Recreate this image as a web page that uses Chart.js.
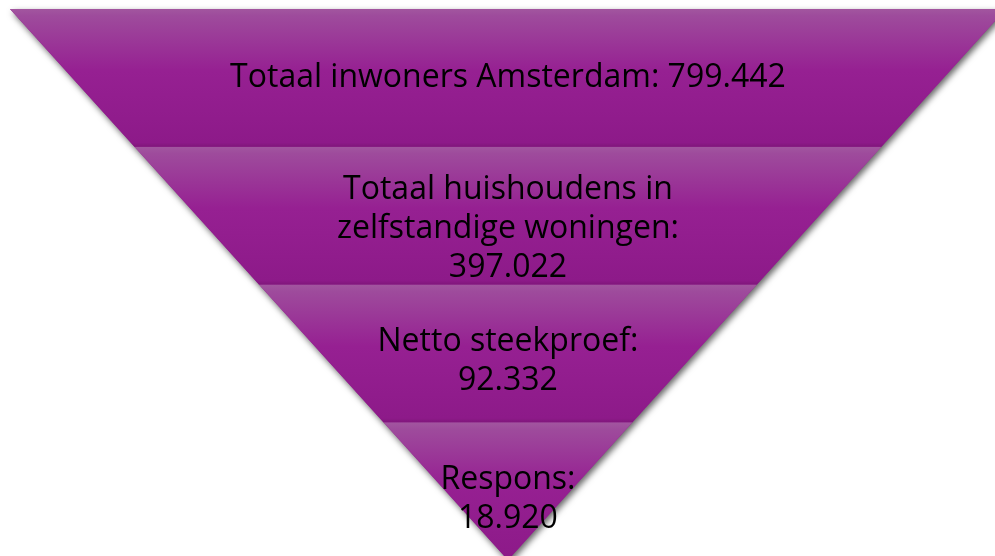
<!DOCTYPE html>
<html>
<head>
<meta charset="utf-8">
<title>Respons</title>
<script src="https://cdn.jsdelivr.net/npm/chart.js@4/dist/chart.umd.min.js"></script>
<style>
  html, body { margin: 0; padding: 0; background: #fff; }
  #wrap { width: 995px; height: 556px; position: relative; }
</style>
</head>
<body>
<div id="wrap"><canvas id="funnel"></canvas></div>
<script>
// funnel steps, top to bottom
var steps = ['inwoners', 'huishoudens', 'steekproef', 'respons'];
var counts = [799442, 397022, 92332, 18920];
var labelLines = [
    ['Totaal inwoners Amsterdam: {n}'],
    ['Totaal huishoudens in', 'zelfstandige woningen:', '{n}'],
    ['Netto steekproef:', '{n}'],
    ['Respons:', '{n}']
];

function fmt(n) {
    // dutch thousands separator
    return String(n).replace(/\B(?=(\d{3})+(?!\d))/g, '.');
}

var nSteps = steps.length;

// each step is a slice of the inverted triangle: level i..i+1,
// half width shrinks linearly from 1 at the top to 0 at the tip
function halfWidth(level) {
    return (nSteps - level) / nSteps;
}

function sliceData(i) {
    var t = halfWidth(i), b = halfWidth(i + 1);
    return [
        {x: -t, y: i}, {x: t, y: i},
        {x: b, y: i + 1}, {x: -b, y: i + 1},
        {x: -t, y: i}
    ];
}

function sliceFill(c) {
    var chart = c.chart;
    var i = c.datasetIndex - 1;
    if (!chart.chartArea || i < 0) return '#951f92';
    var y = chart.scales.y;
    var top = y.getPixelForValue(i), bot = y.getPixelForValue(i + 1);
    var g = chart.ctx.createLinearGradient(0, top, 0, bot);
    g.addColorStop(0, '#a2569f');
    g.addColorStop(0.05, '#9e4b9c');
    g.addColorStop(0.45, '#962092');
    g.addColorStop(0.97, '#8d1a89');
    g.addColorStop(1, '#80167b');
    return g;
}

var datasets = [{
    // whole triangle underneath, only there to cast the shadow
    data: [{x: -1, y: 0}, {x: 1, y: 0}, {x: 0, y: nSteps}, {x: -1, y: 0}],
    showLine: true,
    fill: 'shape',
    backgroundColor: '#951f92',
    borderColor: 'transparent',
    borderWidth: 0,
    pointRadius: 0,
    order: 10
}];
steps.forEach(function (s, i) {
    datasets.push({
        label: s,
        data: sliceData(i),
        showLine: true,
        fill: 'shape',
        backgroundColor: sliceFill,
        borderColor: 'transparent',
        borderWidth: 0,
        pointRadius: 0,
        order: 0
    });
});

var shadowPlugin = {
    id: 'shadow',
    beforeDatasetsDraw: function (chart) {
        var ctx = chart.ctx;
        ctx.save();
        ctx.shadowColor = 'rgba(0,0,0,0.6)';
        ctx.shadowBlur = 6;
        ctx.shadowOffsetX = 2;
        ctx.shadowOffsetY = 3;
    },
    afterDatasetDraw: function (chart, args) {
        if (args.index === 0) {
            var ctx = chart.ctx;
            ctx.shadowColor = 'rgba(0,0,0,0)';
            ctx.shadowBlur = 0;
            ctx.shadowOffsetX = 0;
            ctx.shadowOffsetY = 0;
        }
    },
    afterDatasetsDraw: function (chart) {
        chart.ctx.restore();
    }
};

var textPlugin = {
    id: 'stepText',
    afterDraw: function (chart) {
        var ctx = chart.ctx;
        var x = chart.scales.x, y = chart.scales.y;
        var lineH = 39;
        ctx.save();
        ctx.font = '32px "Open Sans", sans-serif';
        ctx.fillStyle = '#000';
        ctx.textAlign = 'center';
        ctx.textBaseline = 'middle';
        labelLines.forEach(function (lines, i) {
            var txt = lines.map(function (l) { return l.replace('{n}', fmt(counts[i])); });
            // wrapped blocks sit a little below the middle of their slice
            var shift = txt.length > 1 ? 3 + 5 * (txt.length - 1) : 0;
            var cy = y.getPixelForValue(i + 0.5) + shift;
            var cx = x.getPixelForValue(0);
            txt.forEach(function (l, j) {
                ctx.fillText(l, cx, cy + (j - (txt.length - 1) / 2) * lineH);
            });
        });
        ctx.restore();
    }
};

var ctx = document.getElementById('funnel').getContext('2d');
var funnel = new Chart(ctx, {
    type: 'scatter',
    data: {datasets: datasets},
    options: {
        responsive: true,
        maintainAspectRatio: false,
        animation: false,
        events: [],
        layout: {padding: 0},
        plugins: {
            legend: {display: false},
            tooltip: {enabled: false}
        },
        scales: {
            x: {display: false, min: -1.02, max: 0.978},
            y: {display: false, min: -0.065, max: 3.97, reverse: true}
        }
    },
    plugins: [shadowPlugin, textPlugin]
});
</script>
</body>
</html>
